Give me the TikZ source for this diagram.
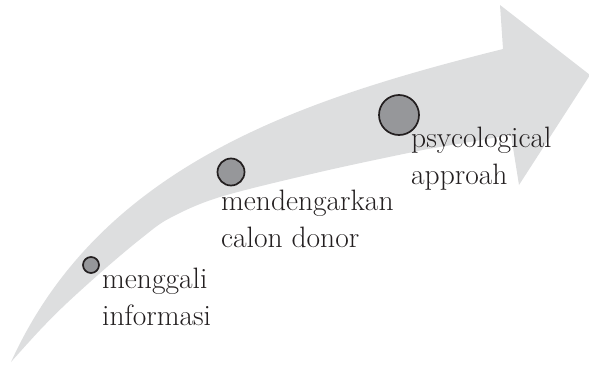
\documentclass[tikz,border=0pt]{standalone}
\usepackage{fontspec}
\usepackage{xcolor}
\usepackage{tikz}
\usetikzlibrary{positioning}
\definecolor{bandgray}{RGB}{221, 222, 223}
\definecolor{dotgray}{RGB}{150, 151, 154}
\definecolor{inkdark}{RGB}{35, 31, 32}

\begin{document}
\begin{tikzpicture}[
    x=1pt, y=-1pt,
    every node/.style={font=\fontsize{29.5}{37}\selectfont, text=inkdark},
    dot/.style={circle, draw=inkdark, fill=dotgray, line width=1.7pt, inner sep=0pt},
    label/.style={anchor=north west, align=left, inner sep=0pt}
]
\useasboundingbox (0,0) rectangle (589,367);
% curved arrow band
\fill[bandgray] (11,362) .. controls (101,164) and (303,99) .. (503,49)
    -- (500,5) -- (590,75) -- (519,185) -- (511,135)
    -- plot[smooth, tension=0.55] coordinates {(511,135) (440,147) (413,152) (320,172) (220,197) (170,218) (143,237) (107,267) (67,303) (40,330) (11,362)}
    -- cycle;
% steps
\node[dot, minimum size=16pt] (dot1) at (91,265) {};
\node[dot, minimum size=27pt] (dot2) at (231,172) {};
\node[dot, minimum size=40pt] (dot3) at (399,115) {};
\node[label] (info) at (102,267.5) {menggali\\informasi};
\node[label] (donor) at (221,189.5) {mendengarkan\\calon donor};
\node[label] (psy) at (411,126.5) {psycological\\approah};
\end{tikzpicture}
\end{document}
